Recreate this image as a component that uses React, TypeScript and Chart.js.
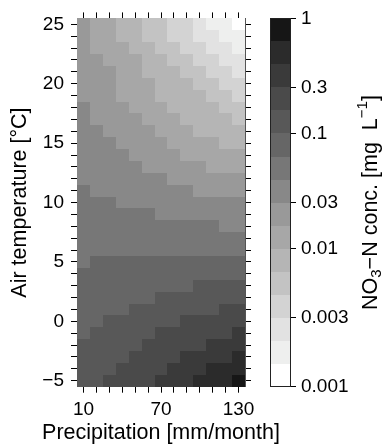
import React, { useEffect, useRef } from 'react';
import { Chart, registerables } from 'chart.js';

Chart.register(...registerables);

// ---- data ----
const precipitation = [10, 20, 30, 40, 50, 60, 70, 80, 90, 100, 110, 120, 130];
const temperature = [25, 24, 23, 22, 21, 20, 19, 18, 17, 16, 15, 14, 13, 12, 11, 10, 9, 8, 7, 6, 5, 4, 3, 2, 1, 0, -1, -2, -3, -4, -5];
const xLabelTicks = [10, 70, 130];
const yLabelTicks = [-5, 0, 5, 10, 15, 20, 25];

// colour levels, index 0 = lowest class (0.001) ... 15 = highest class (1)
const levelColors = [
  '#ffffff', '#eeefee', '#e2e2e2', '#d3d3d3', '#c3c3c3', '#b5b5b5', '#a7a7a7', '#999999',
  '#888888', '#777777', '#666666', '#585858', '#4a4a4a', '#3a3a3a', '#2b2b2b', '#161616',
];
const cbTickPos = [0, 3, 6, 8, 11, 13, 16];
const cbTickLabels = ['0.001', '0.003', '0.01', '0.03', '0.1', '0.3', '1'];

// concentration class per cell, one row per temperature (25 .. -5), one column per precipitation
const concLevel = [
  [7, 6, 6, 5, 5, 4, 4, 3, 3, 2, 1, 1, 0],
  [7, 6, 6, 5, 5, 4, 4, 3, 3, 2, 2, 1, 1],
  [7, 6, 6, 6, 5, 5, 4, 4, 3, 3, 2, 2, 1],
  [7, 7, 6, 6, 6, 5, 5, 4, 4, 3, 3, 2, 2],
  [7, 7, 7, 6, 6, 5, 5, 5, 4, 4, 3, 3, 2],
  [7, 7, 7, 6, 6, 6, 5, 5, 5, 4, 4, 3, 3],
  [7, 7, 7, 6, 6, 6, 5, 5, 5, 5, 4, 4, 3],
  [8, 7, 7, 7, 6, 6, 6, 5, 5, 5, 5, 4, 4],
  [8, 7, 7, 7, 7, 6, 6, 6, 5, 5, 5, 5, 4],
  [8, 8, 7, 7, 7, 7, 6, 6, 6, 5, 5, 5, 5],
  [8, 8, 8, 7, 7, 7, 7, 6, 6, 6, 6, 5, 5],
  [8, 8, 8, 8, 7, 7, 7, 7, 6, 6, 6, 6, 6],
  [8, 8, 8, 8, 8, 7, 7, 7, 7, 7, 6, 6, 6],
  [8, 8, 8, 8, 8, 8, 8, 7, 7, 7, 7, 7, 7],
  [9, 8, 8, 8, 8, 8, 8, 8, 8, 7, 7, 7, 7],
  [9, 9, 9, 8, 8, 8, 8, 8, 8, 8, 8, 8, 8],
  [9, 9, 9, 9, 9, 9, 8, 8, 8, 8, 8, 8, 8],
  [9, 9, 9, 9, 9, 9, 9, 9, 9, 9, 9, 8, 8],
  [9, 9, 9, 9, 9, 9, 9, 9, 9, 9, 9, 9, 9],
  [9, 9, 9, 9, 9, 9, 9, 9, 9, 9, 9, 9, 9],
  [9, 10, 10, 10, 10, 10, 10, 10, 10, 10, 10, 10, 10],
  [10, 10, 10, 10, 10, 10, 10, 10, 10, 10, 10, 10, 10],
  [10, 10, 10, 10, 10, 10, 10, 10, 10, 11, 11, 11, 11],
  [10, 10, 10, 10, 10, 10, 11, 11, 11, 11, 11, 11, 11],
  [10, 10, 10, 10, 11, 11, 11, 11, 11, 11, 11, 12, 12],
  [10, 10, 11, 11, 11, 11, 11, 11, 12, 12, 12, 12, 12],
  [10, 11, 11, 11, 11, 11, 12, 12, 12, 12, 12, 12, 13],
  [11, 11, 11, 11, 11, 12, 12, 12, 12, 12, 13, 13, 13],
  [11, 11, 11, 11, 12, 12, 12, 12, 13, 13, 13, 13, 14],
  [11, 11, 11, 12, 12, 12, 12, 13, 13, 13, 14, 14, 14],
  [11, 11, 12, 12, 12, 12, 13, 13, 13, 14, 14, 14, 15],
];

const FONT = "'Liberation Sans', Arial, Helvetica, sans-serif";
const TICK_SIZE = 19;
const TITLE_SIZE = 21.5;
const CB_TITLE_SIZE = 21.5;

const heatmapPlugin = {
  id: 'heatmap',
  beforeDatasetsDraw(chart: any) {
    const { ctx } = chart;
    const xs = chart.scales.x;
    const ys = chart.scales.y;
    ctx.save();
    temperature.forEach((t, r) => {
      precipitation.forEach((p, c) => {
        const x0 = Math.round(xs.getPixelForValue(p - 5));
        const x1 = Math.round(xs.getPixelForValue(p + 5));
        const y0 = Math.round(ys.getPixelForValue(t + 0.5));
        const y1 = Math.round(ys.getPixelForValue(t - 0.5));
        ctx.fillStyle = levelColors[concLevel[r][c]];
        ctx.fillRect(x0, y0, x1 - x0, y1 - y0);
      });
    });
    // colour bar
    const cb = chart.scales.cb;
    const bx1 = Math.round(cb.left);
    const bx0 = bx1 - 21;
    levelColors.forEach((col, i) => {
      const yTop = Math.round(cb.getPixelForValue(i + 1));
      const yBot = Math.round(cb.getPixelForValue(i));
      ctx.fillStyle = col;
      ctx.fillRect(bx0, yTop, bx1 - bx0, yBot - yTop);
    });
    ctx.strokeStyle = '#222';
    ctx.lineWidth = 1;
    const top = Math.round(cb.getPixelForValue(16));
    const bot = Math.round(cb.getPixelForValue(0));
    ctx.strokeRect(bx0 + 0.5, top + 0.5, bx1 - bx0 - 1, bot - top - 1);
    ctx.restore();
  },
  afterDraw(chart: any) {
    const { ctx, chartArea } = chart;
    // x-axis title (drawn here so it is not squeezed to the plot width)
    ctx.save();
    ctx.fillStyle = '#000';
    ctx.font = `${TITLE_SIZE}px ${FONT}`;
    ctx.textAlign = 'center';
    ctx.textBaseline = 'middle';
    ctx.fillText('Precipitation [mm/month]', (chartArea.left + chartArea.right) / 2, 433);
    ctx.restore();

    // colour-bar title with sub/superscripts
    const cb = chart.scales.cb;
    const cx = 369;
    const cy = (cb.top + cb.bottom) / 2;
    const s = CB_TITLE_SIZE;
    const parts = [
      { t: 'NO', f: 1, dy: 0 },
      { t: '3', f: 0.7, dy: 0.22 },
      { t: '\u2212N conc. [mg  L', f: 1, dy: 0 },
      { t: '\u22121', f: 0.7, dy: -0.45 },
      { t: ']', f: 1, dy: 0 },
    ];
    ctx.save();
    ctx.fillStyle = '#000';
    ctx.textBaseline = 'alphabetic';
    ctx.textAlign = 'left';
    let total = 0;
    parts.forEach((p) => {
      ctx.font = `${s * p.f}px ${FONT}`;
      total += ctx.measureText(p.t).width;
    });
    ctx.translate(cx, cy);
    ctx.rotate(-Math.PI / 2);
    let x = -total / 2;
    const base = 0.36 * s;
    parts.forEach((p) => {
      ctx.font = `${s * p.f}px ${FONT}`;
      ctx.fillText(p.t, x, base + p.dy * s);
      x += ctx.measureText(p.t).width;
    });
    ctx.restore();
  },
};

const tickFont = { family: FONT, size: TICK_SIZE };
const titleFont = { family: FONT, size: TITLE_SIZE, lineHeight: 1 };

export default function App() {
  const ref = useRef<HTMLCanvasElement>(null);
  useEffect(() => {
    const canvas = ref.current;
    if (!canvas) return;
    const chart = new Chart(canvas, {
      type: 'scatter',
      data: { datasets: [{ data: [] }] },
      plugins: [heatmapPlugin],
      options: {
        animation: false,
        responsive: false,
        events: [],
        layout: { padding: 0 },
        plugins: { legend: { display: false }, tooltip: { enabled: false } },
        scales: {
          x: {
            type: 'linear', position: 'bottom', min: 5, max: 135,
            afterBuildTicks: (s: any) => { s.ticks = precipitation.map((v) => ({ value: v })); },
            ticks: {
              autoSkip: false, maxRotation: 0, color: '#000', font: tickFont, padding: 6,
              callback: (v: any) => (xLabelTicks.includes(v) ? String(v) : ''),
            },
            grid: { drawOnChartArea: false, tickLength: 6, color: '#000' },
            border: { display: true, color: '#555' },
            afterFit: (s: any) => { s.height = 57.3; },
          },
          x2: {
            type: 'linear', axis: 'x', position: 'top', min: 5, max: 135,
            afterBuildTicks: (s: any) => { s.ticks = precipitation.map((v) => ({ value: v })); },
            ticks: { display: false, autoSkip: false },
            grid: { drawOnChartArea: false, tickLength: 6, color: '#000' },
            border: { display: true, color: '#555' },
            afterFit: (s: any) => { s.height = 17.5; },
          },
          y: {
            type: 'linear', position: 'left', min: -5.5, max: 25.5,
            afterBuildTicks: (s: any) => { s.ticks = temperature.map((v) => ({ value: v })); },
            ticks: {
              autoSkip: false, color: '#000', font: tickFont, padding: 7,
              callback: (v: any) => (yLabelTicks.includes(v) ? String(v).replace('-', '\u2212') : ''),
            },
            grid: { drawOnChartArea: false, tickLength: 6, color: '#000' },
            border: { display: true, color: '#555' },
            title: { display: true, text: 'Air temperature [\u00b0C]', color: '#000', font: titleFont, padding: { top: 9, bottom: 0 } },
            afterFit: (s: any) => { s.width = 77; },
          },
          y2: {
            type: 'linear', axis: 'y', position: 'right', min: -5.5, max: 25.5, weight: 0,
            afterBuildTicks: (s: any) => { s.ticks = temperature.map((v) => ({ value: v })); },
            ticks: { display: false, autoSkip: false },
            grid: { drawOnChartArea: false, tickLength: 6, color: '#000' },
            border: { display: true, color: '#555' },
            afterFit: (s: any) => { s.width = 46; },
          },
          cb: {
            type: 'linear', axis: 'y', position: 'right', min: 0, max: 16, weight: 1,
            afterBuildTicks: (s: any) => { s.ticks = cbTickPos.map((v) => ({ value: v })); },
            ticks: {
              autoSkip: false, color: '#000', font: tickFont, padding: 5,
              callback: (v: any) => cbTickLabels[cbTickPos.indexOf(v)],
            },
            grid: { drawOnChartArea: false, tickLength: 5, color: '#000' },
            border: { display: false },
            afterFit: (s: any) => { s.width = 92; },
          },
        },
      } as any,
    });
    return () => chart.destroy();
  }, []);
  return (
    <div style={{ position: 'absolute', left: 0, top: 0, width: 383, height: 444, background: '#fff' }}>
      <canvas ref={ref} width={383} height={444} style={{ display: 'block', width: 383, height: 444 }} />
    </div>
  );
}
